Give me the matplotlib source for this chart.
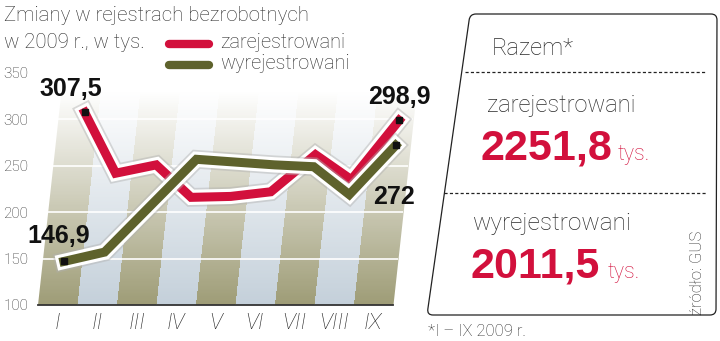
import numpy as np
import matplotlib
matplotlib.use('Agg')
import matplotlib.pyplot as plt
import matplotlib.transforms as mtransforms
import matplotlib.patheffects as pe
from matplotlib.path import Path
from matplotlib.patches import PathPatch

# data (tys. osob)
months = ['I', 'II', 'III', 'IV', 'V', 'VI', 'VII', 'VIII', 'IX']
zarejestrowani = [307.5, 242, 251, 216, 217, 222, 262, 235, 298.9]
wyrejestrowani = [146.9, 157, 207, 257, 254, 251, 249, 219, 272]
y_ticks = [100, 150, 200, 250, 300, 350]
razem_zarej = '2251,8'
razem_wyrej = '2011,5'

RED = '#d2103c'
OLIVE = '#5e622c'
STRIPE_OLIVE = np.array([158, 156, 118]) / 255
STRIPE_BLUE = np.array([196, 208, 218]) / 255
LIGHT = ['Roboto', 'DejaVu Sans']
BOLD = ['Liberation Sans', 'DejaVu Sans']
TXT = '#2b2b2b'

W, H = 720, 341
fig = plt.figure(figsize=(W / 100, H / 100), dpi=100)

ax = fig.add_axes([38 / W, 36 / H, 355 / W, 232 / H])
ax.set_xlim(-0.5, 8.5)
ax.set_ylim(100, 350)


def skew(k):
    # lean everything to the right as it goes up (pseudo 3D look)
    y0 = ax.transData.transform((0, 100))[1]
    sh = mtransforms.Affine2D().translate(0, -y0).skew(np.arctan(k), 0).translate(0, y0)
    return ax.transData + sh


band_tr = skew(0.11)
line_tr = skew(0.14)

# skewed striped background fading to white
n = 200
t = np.linspace(0, 1, n)[:, None]
img = np.zeros((n, len(months), 4))
for i in range(len(months)):
    img[:, i, :3] = STRIPE_OLIVE if i % 2 == 0 else STRIPE_BLUE
img[:, :, 3] = (1 - t) ** 1.0
ax.imshow(img, extent=(-0.5, 8.5, 100, 330), origin='lower', aspect='auto',
          interpolation='nearest', transform=band_tr, zorder=0, clip_on=False)
ax.hlines(y_ticks[1:-1], -0.5, 8.5, colors='white', lw=1.2, transform=band_tr,
          zorder=1, clip_on=False)
ax.set_xlim(-0.5, 8.5)
ax.set_ylim(100, 350)

x = np.arange(len(months))
fx = [pe.Stroke(linewidth=13.5, foreground='#b0b0b0', alpha=0.45),
      pe.Stroke(linewidth=11, foreground='white'), pe.Normal()]
ax.plot(x, zarejestrowani, color=RED, lw=6.5, transform=line_tr, path_effects=fx,
        solid_joinstyle='miter', zorder=3, clip_on=False)
ax.plot(x, wyrejestrowani, color=OLIVE, lw=6.5, transform=line_tr, path_effects=fx,
        solid_joinstyle='miter', zorder=4, clip_on=False)

ends = [0, len(months) - 1]
for vals in (zarejestrowani, wyrejestrowani):
    ax.plot(x[ends], np.array(vals)[ends], 's', color='#111111', ms=5,
            transform=line_tr, zorder=6, clip_on=False)


def fmt(v):
    return f'{v:g}'.replace('.', ',')


lab = dict(family=BOLD, fontweight='bold', fontsize=18, ha='center', va='center',
           color='#111111', xycoords=line_tr, textcoords='offset points',
           annotation_clip=False, zorder=7)
ax.annotate(fmt(zarejestrowani[0]), (x[0], zarejestrowani[0]), xytext=(-10, 17), **lab)
ax.annotate(fmt(wyrejestrowani[0]), (x[0], wyrejestrowani[0]), xytext=(-4, 18.5), **lab)
ax.annotate(fmt(zarejestrowani[-1]), (x[-1], zarejestrowani[-1]), xytext=(0, 17), **lab)
ax.annotate(fmt(wyrejestrowani[-1]), (x[-1], wyrejestrowani[-1]), xytext=(-1, -37), **lab)

for s in ['top', 'right', 'left']:
    ax.spines[s].set_visible(False)
ax.spines['bottom'].set_color('#333333')
ax.spines['bottom'].set_linewidth(1.3)
ax.set_facecolor('none')
ax.set_xticks(x, months)
ax.set_yticks(y_ticks)
ax.tick_params(axis='x', length=0, pad=6, labelsize=16, labelcolor='#1e1e1e')
ax.tick_params(axis='y', length=0, pad=7, labelsize=11, labelcolor='#333333')
for tl in ax.get_xticklabels():
    tl.set_family(LIGHT)
    tl.set_style('italic')
    tl.set_fontweight('light')
for tl in ax.get_yticklabels():
    tl.set_family(LIGHT)
    tl.set_fontweight('light')

# overlay in pixel coordinates for the texts and the summary box
ov = fig.add_axes([0, 0, 1, 1], facecolor='none')
ov.set_xlim(0, W)
ov.set_ylim(H, 0)
ov.axis('off')

light = dict(family=LIGHT, fontweight='light', color=TXT, va='baseline')
ov.text(4, 21, 'Zmiany w rejestrach bezrobotnych', fontsize=14.7, **light)
ov.text(4, 48, 'w 2009 r., w tys.', fontsize=14.7, **light)

ov.plot([169, 209], [44, 44], color=RED, lw=6, solid_capstyle='round')
ov.plot([169, 209], [65, 65], color=OLIVE, lw=6, solid_capstyle='round')
ov.text(220, 48, 'zarejestrowani', fontsize=14.3, **light)
ov.text(220, 69, 'wyrejestrowani', fontsize=14.3, **light)


def rounded_poly(pts, r):
    verts, codes = [], []
    for i in range(len(pts)):
        p0 = np.array(pts[i - 1], float)
        p1 = np.array(pts[i], float)
        p2 = np.array(pts[(i + 1) % len(pts)], float)
        a = p1 + (p0 - p1) / np.linalg.norm(p0 - p1) * r
        b = p1 + (p2 - p1) / np.linalg.norm(p2 - p1) * r
        verts += [a, p1, b]
        codes += [Path.LINETO, Path.CURVE3, Path.CURVE3]
    codes[0] = Path.MOVETO
    verts.append(verts[0])
    codes.append(Path.CLOSEPOLY)
    return Path(verts, codes)


box = rounded_poly([(470, 14), (717, 14), (716, 315), (427, 315)], 6)
ov.add_patch(PathPatch(box, facecolor='white', edgecolor='#222222', lw=0.9))
ov.plot([465, 706], [72, 72], color='#222222', lw=0.9, ls=(0, (2.5, 1.8)))
ov.plot([444, 706], [193, 193], color='#222222', lw=0.9, ls=(0, (2.5, 1.8)))

ov.text(492, 55, 'Razem*', fontsize=17, **light)
ov.text(487, 112, 'zarejestrowani', fontsize=17, **light)
ov.text(472, 230, 'wyrejestrowani', fontsize=17.5, **light)
big = dict(family=BOLD, fontweight='bold', fontsize=31, color=RED, va='baseline')
ov.text(481, 160, razem_zarej, **big)
ov.text(471, 278, razem_wyrej, **big)
ov.text(618, 160, 'tys.', fontsize=15.5, family=LIGHT, fontweight='light', color=RED, va='baseline')
ov.text(608, 278, 'tys.', fontsize=15.5, family=LIGHT, fontweight='light', color=RED, va='baseline')

ov.text(698, 315, 'źródło: GUS', fontsize=12, rotation=90, ha='center', va='bottom',
        family=LIGHT, fontweight='light', color=TXT)
ov.text(428, 336, '*I – IX 2009 r.', fontsize=12, **light)

fig.savefig('out.png', dpi=100)
